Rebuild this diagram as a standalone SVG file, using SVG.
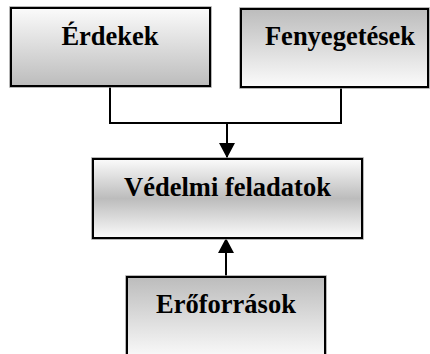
<svg xmlns="http://www.w3.org/2000/svg" width="430" height="354" viewBox="0 0 430 354">
  <defs>
    <linearGradient id="gDown" x1="0" y1="0" x2="0" y2="1">
      <stop offset="0" stop-color="#fbfbfb"/>
      <stop offset="1" stop-color="#bcbcbc"/>
    </linearGradient>
    <linearGradient id="gUp" x1="0" y1="0" x2="0" y2="1">
      <stop offset="0" stop-color="#bcbcbc"/>
      <stop offset="1" stop-color="#fbfbfb"/>
    </linearGradient>
    <linearGradient id="gMid" x1="0" y1="0" x2="0" y2="1">
      <stop offset="0" stop-color="#fbfbfb"/>
      <stop offset="0.5" stop-color="#bcbcbc"/>
      <stop offset="1" stop-color="#fbfbfb"/>
    </linearGradient>
    <marker id="arrow" markerWidth="16" markerHeight="16" refX="15" refY="8" orient="auto" markerUnits="userSpaceOnUse">
      <path d="M0,0 L15,8 L0,16 Z" fill="#000"/>
    </marker>
  </defs>
  <style>
    .box { stroke: #000; stroke-width: 2; }
    .halo { fill: none; stroke: #a0a0a0; stroke-width: 3.5; }
    .label { font-weight: bold; font-size: 26.5px; text-anchor: middle; fill: #000; }
    .wire { fill: none; stroke: #000; stroke-width: 2; }
  </style>

  <g id="connectors">
    <polyline class="wire" points="110,86 110,123 341,123 341,87"/>
    <line class="wire" x1="227" y1="123" x2="227" y2="158" marker-end="url(#arrow)"/>
    <line class="wire" x1="226" y1="277" x2="226" y2="238" marker-end="url(#arrow)"/>
  </g>

  <g id="erdekek">
    <rect class="halo" x="11" y="8" width="199" height="78"/>
    <rect class="box" x="11" y="8" width="199" height="78" fill="url(#gDown)"/>
    <text class="label" font-family="'Liberation Serif', 'Times New Roman', serif" x="110" y="45">Érdekek</text>
  </g>

  <g id="fenyegetesek">
    <rect class="halo" x="241" y="9" width="187" height="78"/>
    <rect class="box" x="241" y="9" width="187" height="78" fill="url(#gUp)"/>
    <text class="label" font-family="'Liberation Serif', 'Times New Roman', serif" x="340" y="45">Fenyegetések</text>
  </g>

  <g id="vedelmi-feladatok">
    <rect class="halo" x="93" y="159" width="269" height="79"/>
    <rect class="box" x="93" y="159" width="269" height="79" fill="url(#gMid)"/>
    <text class="label" font-family="'Liberation Serif', 'Times New Roman', serif" x="227.5" y="196">Védelmi feladatok</text>
  </g>

  <g id="eroforrasok">
    <rect class="halo" x="127" y="277" width="198" height="82"/>
    <rect class="box" x="127" y="277" width="198" height="82" fill="url(#gUp)"/>
    <text class="label" font-family="'Liberation Serif', 'Times New Roman', serif" x="226" y="313">Erőforrások</text>
  </g>
</svg>
